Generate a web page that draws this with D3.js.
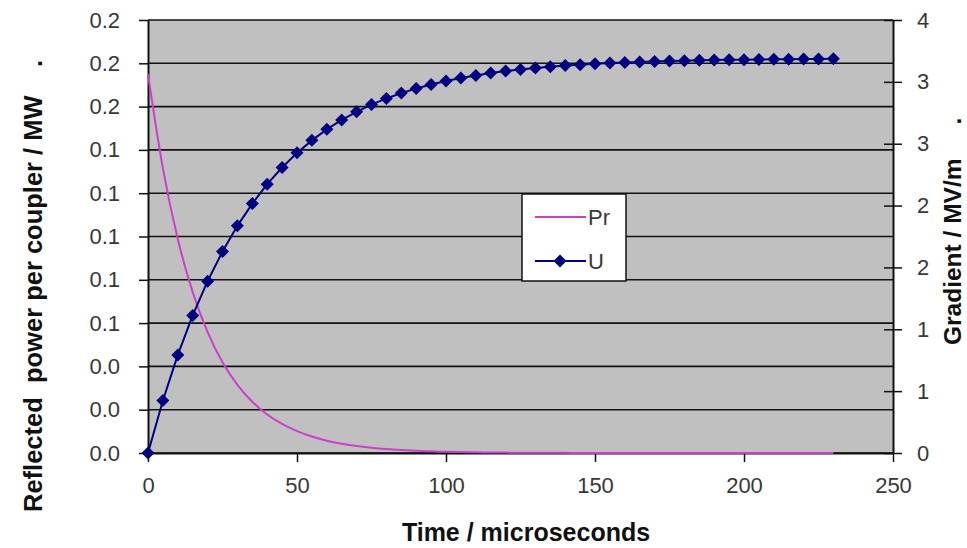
<!DOCTYPE html>
<html>
<head>
<meta charset="utf-8">
<script src="https://cdn.jsdelivr.net/npm/d3@7"></script>
<style>
  body { margin: 0; background: #fff; }
  svg { display: block; font-family: Arial, "Liberation Sans", sans-serif; }
  .title { white-space: pre; font-weight: bold; fill: #111; }
</style>
</head>
<body>
<div id="app"></div>
<script>
// time in microseconds, one point every 5 us
const time = [0, 5, 10, 15, 20, 25, 30, 35, 40, 45, 50, 55, 60, 65, 70, 75, 80, 85, 90, 95,
  100, 105, 110, 115, 120, 125, 130, 135, 140, 145, 150, 155, 160, 165, 170, 175, 180, 185,
  190, 195, 200, 205, 210, 215, 220, 225, 230]

// reflected power per coupler / MW
const pr = [0.1750, 0.1315, 0.0988, 0.0743, 0.0558, 0.0419, 0.0315, 0.0237, 0.0178, 0.0134,
  0.0101, 0.0076, 0.0057, 0.0043, 0.0032, 0.0024, 0.0018, 0.00136, 0.00102, 0.00077,
  0.00058, 0.00043, 0.00033, 0.00025, 0.00018, 0.00014, 0.00010, 0.00008, 0.00006, 0.00004,
  0.00003, 0.00002, 0.00002, 0.00001, 0.00001, 0.00001, 0.00001, 0, 0, 0, 0, 0, 0, 0, 0, 0, 0]

// gradient / MV/m
const u = [0, 0.425, 0.793, 1.112, 1.389, 1.628, 1.836, 2.016, 2.173, 2.308, 2.426, 2.527,
  2.616, 2.692, 2.758, 2.816, 2.866, 2.909, 2.946, 2.979, 3.007, 3.031, 3.052, 3.071, 3.087,
  3.100, 3.112, 3.123, 3.132, 3.139, 3.146, 3.152, 3.157, 3.161, 3.165, 3.168, 3.171, 3.174,
  3.176, 3.178, 3.179, 3.181, 3.182, 3.183, 3.184, 3.185, 3.186]

const xTicks = [0, 50, 100, 150, 200, 250]
const leftTicks = [0, 0.02, 0.04, 0.06, 0.08, 0.10, 0.12, 0.14, 0.16, 0.18, 0.20]
const leftTickLabels = ["0.0", "0.0", "0.0", "0.1", "0.1", "0.1", "0.1", "0.1", "0.2", "0.2", "0.2"]
const rightTicks = [0, 0.5, 1, 1.5, 2, 2.5, 3, 3.5]
const rightTickLabels = ["0", "1", "1", "2", "2", "3", "3", "4"]

const width = 967, height = 548
const plotLeft = 148, plotRight = 893, plotTop = 20, plotBottom = 453

const svg = d3.select('#app').append('svg')
    .attr('width', width)
    .attr('height', height)

const x = d3.scaleLinear().domain([0, 250]).range([plotLeft, plotRight])
const yL = d3.scaleLinear().domain([0, 0.2]).range([plotBottom, plotTop])
const yR = d3.scaleLinear().domain([0, 3.5]).range([plotBottom, plotTop])

// plot area
svg.append('rect')
    .attr('x', plotLeft).attr('y', plotTop)
    .attr('width', plotRight - plotLeft).attr('height', plotBottom - plotTop)
    .attr('fill', '#c0c0c0')

// gridlines
svg.append('g')
    .selectAll('line')
    .data(leftTicks)
    .join('line')
    .attr('x1', plotLeft).attr('x2', plotRight)
    .attr('y1', d => yL(d)).attr('y2', d => yL(d))
    .attr('stroke', '#111')
    .attr('stroke-width', 1.6)

const styleAxis = g => {
    g.select('.domain').attr('stroke', '#111').attr('stroke-width', 2)
    g.selectAll('.tick line').attr('stroke', '#111').attr('stroke-width', 1.5)
    g.selectAll('.tick text').attr('fill', '#383838').attr('font-size', 22)
        .attr('font-family', 'Arial, "Liberation Sans", sans-serif')
}

svg.append('g')
    .attr('transform', `translate(${plotLeft},0)`)
    .call(d3.axisLeft(yL).tickValues(leftTicks).tickSize(9).tickSizeOuter(0).tickPadding(19)
        .tickFormat((d, i) => leftTickLabels[i]))
    .call(styleAxis)

svg.append('g')
    .attr('transform', `translate(${plotRight},0)`)
    .call(d3.axisRight(yR).tickValues(rightTicks).tickSize(9).tickSizeOuter(0).tickPadding(15)
        .tickFormat((d, i) => rightTickLabels[i]))
    .call(styleAxis)
    .call(g => g.selectAll('.tick line').attr('x1', -9))

svg.append('g')
    .attr('transform', `translate(0,${plotBottom})`)
    .call(d3.axisBottom(x).tickValues(xTicks).tickSize(9).tickSizeOuter(0).tickPadding(15))
    .call(styleAxis)

// Pr series
svg.append('path')
    .datum(time.map((t, i) => [t, pr[i]]))
    .attr('fill', 'none')
    .attr('stroke', '#cc3fcc')
    .attr('stroke-width', 2)
    .attr('d', d3.line().x(d => x(d[0])).y(d => yL(d[1])).curve(d3.curveMonotoneX))

// U series
const uData = time.map((t, i) => [t, u[i]])
svg.append('path')
    .datum(uData)
    .attr('fill', 'none')
    .attr('stroke', '#000080')
    .attr('stroke-width', 2)
    .attr('d', d3.line().x(d => x(d[0])).y(d => yR(d[1])))

const diamond = 'M0,-6.5L6.5,0L0,6.5L-6.5,0Z'
svg.append('g')
    .selectAll('path')
    .data(uData)
    .join('path')
    .attr('transform', d => `translate(${x(d[0])},${yR(d[1])})`)
    .attr('d', diamond)
    .attr('fill', '#000080')

// legend
const lg = svg.append('g')
lg.append('rect')
    .attr('x', 522).attr('y', 194).attr('width', 104).attr('height', 87)
    .attr('fill', '#fff').attr('stroke', '#111').attr('stroke-width', 1.5)
lg.append('line')
    .attr('x1', 535).attr('x2', 586).attr('y1', 217).attr('y2', 217)
    .attr('stroke', '#cc3fcc').attr('stroke-width', 2)
lg.append('text').attr('x', 588).attr('y', 225).attr('font-size', 22).attr('fill', '#383838').text('Pr')
lg.append('line')
    .attr('x1', 535).attr('x2', 586).attr('y1', 261).attr('y2', 261)
    .attr('stroke', '#000080').attr('stroke-width', 2)
lg.append('path').attr('transform', 'translate(560,261)').attr('d', diamond).attr('fill', '#000080')
lg.append('text').attr('x', 588).attr('y', 269).attr('font-size', 22).attr('fill', '#383838').text('U')

// axis titles
svg.append('text')
    .attr('class', 'title')
    .attr('x', 526).attr('y', 541)
    .attr('text-anchor', 'middle')
    .attr('font-size', 25)
    .text('Time / microseconds')

svg.append('text')
    .attr('class', 'title')
    .attr('transform', 'translate(42,512) rotate(-90)')
    .attr('font-size', 25.5)
    .text('Reflected  power per coupler / MW    .')

svg.append('text')
    .attr('class', 'title')
    .attr('transform', 'translate(961,345) rotate(-90)')
    .attr('font-size', 24.5)
    .text('Gradient / MV/m     .')
</script>
</body>
</html>
